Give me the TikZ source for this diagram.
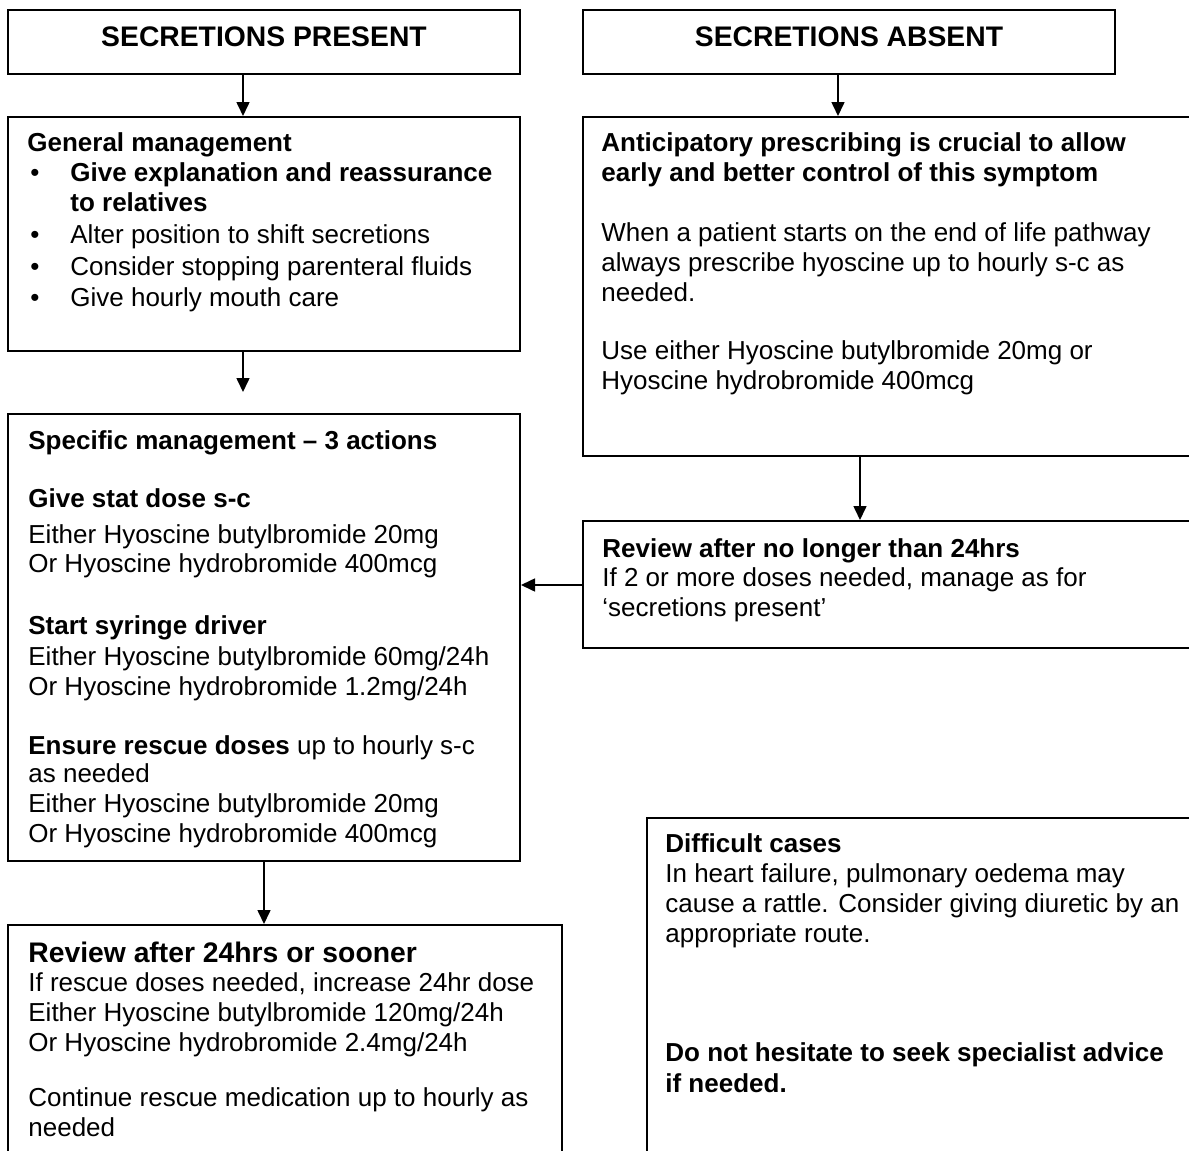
\documentclass[tikz,border=0pt]{standalone}
\usepackage{fontspec}
\setmainfont{Liberation Sans}
\usetikzlibrary{arrows.meta,fit}
\newcommand\bodyfont{\fontsize{13}{15}\selectfont}
\newcommand\headfont{\fontsize{14.15}{17}\selectfont\bfseries}
\tikzset{
  box/.style={draw, line width=1pt, inner sep=0pt, rectangle},
  txt/.style={anchor=base west, inner sep=0pt, font=\bodyfont},
  btxt/.style={txt, font=\bodyfont\bfseries},
  htxt/.style={anchor=base, inner sep=0pt, font=\headfont},
  arr/.style={line width=0.8pt, -{Triangle[length=7pt,width=6.5pt]}}
}
\begin{document}
\begin{tikzpicture}[x=0.5pt,y=-0.5pt]
\useasboundingbox (0,0) rectangle (1189,1151);
\fill[white] (0,0) rectangle (1189,1151);
\clip (0,0) rectangle (1189,1151);

% boxes
\node[box, fit={(8,10) (520,74)}] (sp) {};
\node[box, fit={(583,10) (1115,74)}] (sa) {};
\node[box, fit={(8,117) (520,351)}] (gm) {};
\node[box, fit={(583,117) (1210,456)}] (ant) {};
\node[box, fit={(8,414) (520,861)}] (spec) {};
\node[box, fit={(583,521) (1210,648)}] (rev1) {};
\node[box, fit={(8,925) (562,1180)}] (rev2) {};
\node[box, fit={(647,818) (1210,1180)}] (diff) {};

% headers
\node[htxt] (spt) at (264,46.7) {SECRETIONS PRESENT};
\node[htxt] (sat) at (849,46.7) {SECRETIONS ABSENT};

% general management
\node[btxt] (g1) at (27,151.5) {General management};
\node[txt] (gb1) at (30,181.5) {•};
\node[btxt] (g2) at (70,181.5) {Give explanation and reassurance};
\node[btxt] (g3) at (70,211) {to relatives};
\node[txt] (gb2) at (30,243.5) {•};
\node[txt] (g4) at (70,243.5) {Alter position to shift secretions};
\node[txt] (gb3) at (30,275) {•};
\node[txt] (g5) at (70,275) {Consider stopping parenteral fluids};
\node[txt] (gb4) at (30,306) {•};
\node[txt] (g6) at (70,306) {Give hourly mouth care};

% anticipatory
\node[btxt] (a1) at (601,151.5) {Anticipatory prescribing is crucial to allow};
\node[btxt] (a2) at (601,181) {early and better control of this symptom};
\node[txt] (a3) at (601,241) {When a patient starts on the end of life pathway};
\node[txt] (a4) at (601,271) {always prescribe hyoscine up to hourly s-c as};
\node[txt] (a5) at (601,301.5) {needed.};
\node[txt] (a6) at (601,359) {Use either Hyoscine butylbromide 20mg or};
\node[txt] (a7) at (601,389) {Hyoscine hydrobromide 400mcg};

% specific management
\node[btxt] (s1) at (28,449) {Specific management – 3 actions};
\node[btxt] (s2) at (28,507) {Give stat dose s-c};
\node[txt] (s3) at (28,543) {Either Hyoscine butylbromide 20mg};
\node[txt] (s4) at (28,572) {Or Hyoscine hydrobromide 400mcg};
\node[btxt] (s5) at (28,634) {Start syringe driver};
\node[txt] (s6) at (28,665) {Either Hyoscine butylbromide 60mg/24h};
\node[txt] (s7) at (28,695) {Or Hyoscine hydrobromide 1.2mg/24h};
\node[txt] (s8) at (28,754) {\textbf{Ensure rescue doses} up to hourly s-c};
\node[txt] (s9) at (28,782) {as needed};
\node[txt] (s10) at (28,812) {Either Hyoscine butylbromide 20mg};
\node[txt] (s11) at (28,842) {Or Hyoscine hydrobromide 400mcg};

% review no longer than 24hrs
\node[btxt] (r1) at (602,557) {Review after no longer than 24hrs};
\node[txt] (r2) at (602,586) {If 2 or more doses needed, manage as for};
\node[txt] (r3) at (602,616) {‘secretions present’};

% review after 24hrs
\node[txt, font=\headfont] (v1) at (28,962) {Review after 24hrs or sooner};
\node[txt] (v2) at (28,991) {If rescue doses needed, increase 24hr dose};
\node[txt] (v3) at (28,1021) {Either Hyoscine butylbromide 120mg/24h};
\node[txt] (v4) at (28,1051) {Or Hyoscine hydrobromide 2.4mg/24h};
\node[txt] (v5) at (28,1106) {Continue rescue medication up to hourly as};
\node[txt] (v6) at (28,1136) {needed};

% difficult cases
\node[btxt] (d1) at (665,852) {Difficult cases};
\node[txt] (d2) at (665,882) {In heart failure, pulmonary oedema may};
\node[txt] (d3) at (665,912) {cause a rattle. Consider giving diuretic by an};
\node[txt] (d4) at (665,942) {appropriate route.};
\node[btxt] (d5) at (665,1061) {Do not hesitate to seek specialist advice};
\node[btxt] (d6) at (665,1092) {if needed.};

% connectors
\coordinate (c1) at (243,0);
\coordinate (c2) at (838,0);
\coordinate (e3) at (243,392);
\coordinate (c4) at (860,0);
\coordinate (c6) at (0,585);
\draw[arr] (sp.south -| c1) -- (gm.north -| c1);
\draw[arr] (sa.south -| c2) -- (ant.north -| c2);
\draw[arr] (gm.south -| e3) -- (e3);
\draw[arr] (ant.south -| c4) -- (rev1.north -| c4);
\draw[arr] (rev1.west |- c6) -- (spec.east |- c6);
\draw[arr] (spec.south) -- (spec.south |- rev2.north);
\end{tikzpicture}
\end{document}
